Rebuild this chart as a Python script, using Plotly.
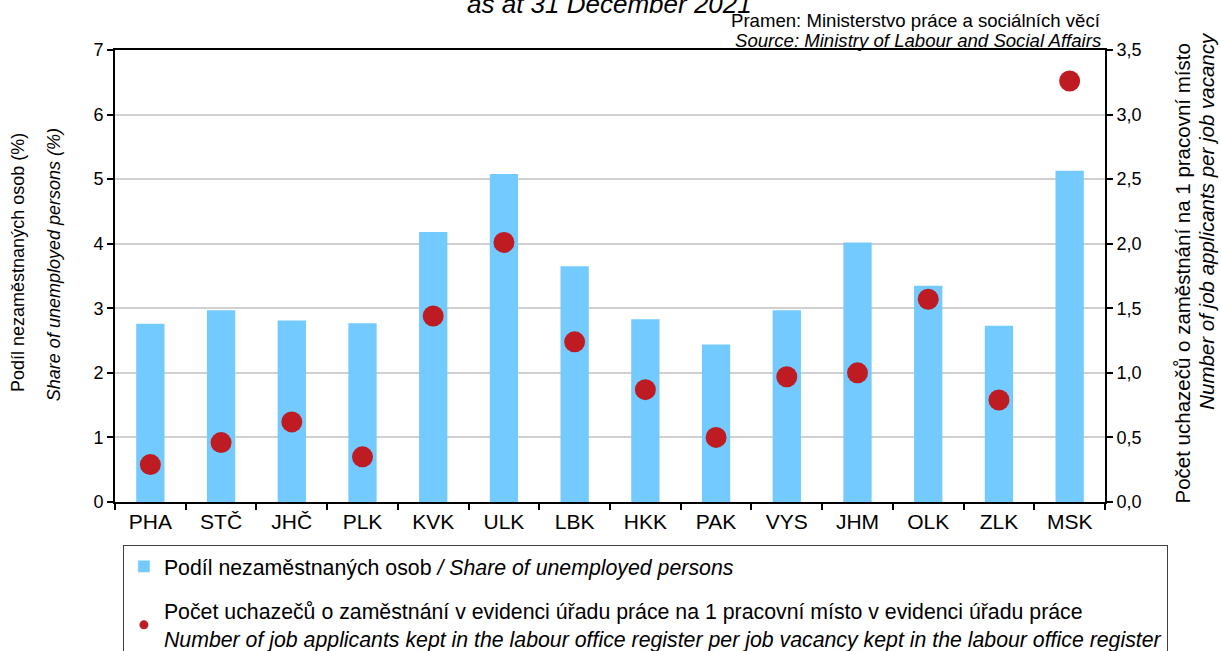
import plotly.graph_objects as go

regions = ["PHA", "STČ", "JHČ", "PLK", "KVK", "ULK", "LBK", "HKK", "PAK", "VYS", "JHM", "OLK", "ZLK", "MSK"]
unemployed_share = [2.76, 2.97, 2.81, 2.77, 4.18, 5.08, 3.65, 2.83, 2.44, 2.97, 4.02, 3.35, 2.73, 5.13]
applicants_per_vacancy = [0.29, 0.46, 0.62, 0.35, 1.44, 2.01, 1.24, 0.87, 0.50, 0.97, 1.00, 1.57, 0.79, 3.26]

left_ticks = [0, 1, 2, 3, 4, 5, 6, 7]
right_ticks = [0.0, 0.5, 1.0, 1.5, 2.0, 2.5, 3.0, 3.5]

BAR_COLOR = "#72CAFF"
DOT_COLOR = "#BE1C22"
FONT = "Arial, Liberation Sans, sans-serif"

fig = go.Figure()
fig.add_trace(go.Bar(
    x=regions, y=unemployed_share, marker_color=BAR_COLOR, showlegend=False,
    marker_line_width=0, yaxis="y"))
fig.add_trace(go.Scatter(
    x=regions, y=applicants_per_vacancy, mode="markers", yaxis="y2", showlegend=False,
    marker=dict(color=DOT_COLOR, size=21)))

# legend entries (legend-only, no data drawn)
fig.add_trace(go.Bar(
    x=[regions[0]], y=[None], marker_color=BAR_COLOR, legendgroup="a",
    name="Podíl nezaměstnaných osob <i>/ Share of unemployed persons</i>"))
fig.add_trace(go.Scatter(
    x=[regions[0]], y=[None], mode="markers", marker=dict(color=DOT_COLOR, size=9), legendgroup="b",
    name="Počet uchazečů o zaměstnání v evidenci úřadu práce na 1 pracovní místo v evidenci úřadu práce"
         "<br><i>Number of job applicants kept in the labour office register per job vacancy kept in the labour office register</i>"))

axis_line = dict(showline=True, linecolor="black", linewidth=2, ticks="outside", ticklen=6,
                 tickwidth=1.5, tickcolor="black")

fig.update_layout(
    width=1221, height=651,
    margin=dict(l=115, r=116, t=50, b=149, autoexpand=False),
    paper_bgcolor="white", plot_bgcolor="white",
    font=dict(family=FONT, size=18, color="black"),
    separators=", ",
    barmode="overlay",
    bargap=0.6,
    xaxis=dict(**axis_line, tickson="boundaries", mirror=True, tickfont=dict(size=21),
               type="category", categoryorder="array", categoryarray=regions,
               range=[-0.5, len(regions) - 0.5]),
    yaxis=dict(**axis_line, range=[0, 7], tickvals=left_ticks, showgrid=True, gridcolor="#D0D0D0",
               gridwidth=1.5, zeroline=False, tickfont=dict(size=18)),
    yaxis2=dict(**axis_line, overlaying="y", side="right", range=[0, 3.5], tickvals=right_ticks,
                tickformat=".1f", showgrid=False, zeroline=False, tickfont=dict(size=18)),
    legend=dict(x=0.008, xanchor="left", y=-0.0951, yanchor="top", bgcolor="white",
                bordercolor="#404040", borderwidth=1, font=dict(size=21.3),
                tracegroupgap=14, traceorder="grouped", itemwidth=30),
    annotations=[
        dict(text="<i>as at 31 December 2021</i>", xref="paper", yref="paper", x=0.499, y=1.064,
             xanchor="center", yanchor="bottom", showarrow=False, font=dict(size=26)),
        dict(text="Pramen: Ministerstvo práce a sociálních věcí", xref="paper", yref="paper",
             x=0.998, y=1.0, yanchor="middle", xanchor="right", showarrow=False, font=dict(size=18.6),
             yshift=30),
        dict(text="<i>Source: Ministry of Labour and Social Affairs</i>", xref="paper", yref="paper",
             x=0.998, y=1.0, yanchor="middle", xanchor="right", showarrow=False, font=dict(size=18.6),
             yshift=10),
        dict(text="Podíl nezaměstnaných osob (%)", xref="paper", yref="paper", x=-0.098, y=0.531,
             xanchor="center", yanchor="middle", textangle=-90, showarrow=False, font=dict(size=18)),
        dict(text="<i>Share of unemployed persons (%)</i>", xref="paper", yref="paper", x=-0.0616, y=0.524,
             xanchor="center", yanchor="middle", textangle=-90, showarrow=False, font=dict(size=18)),
        dict(text="Počet uchazečů o zaměstnání na 1 pracovní místo", xref="paper", yref="paper",
             x=1.0778, y=0.5055, xanchor="center", yanchor="middle", textangle=-90, showarrow=False,
             font=dict(size=20.5)),
        dict(text="<i>Number of job applicants per job vacancy</i>", xref="paper", yref="paper",
             x=1.103, y=0.622, xanchor="center", yanchor="middle", textangle=-90, showarrow=False,
             font=dict(size=20.5)),
    ],
)

fig.write_html("out.html", config={"displayModeBar": False},
               post_script="document.body.style.margin='0';")
